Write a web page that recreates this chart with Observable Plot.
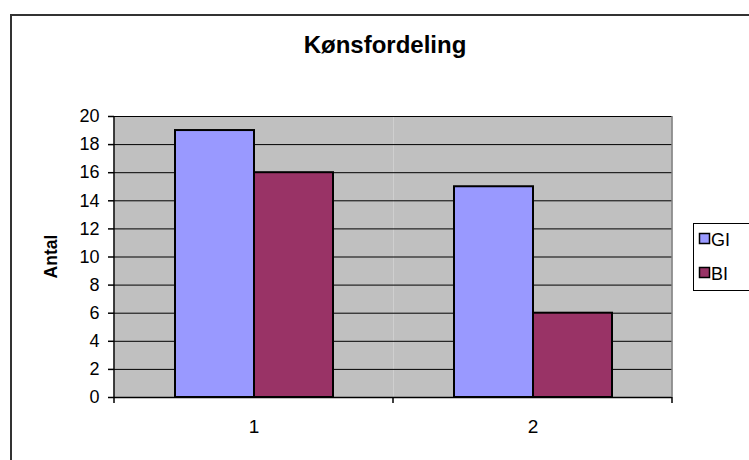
<!DOCTYPE html>
<html>
<head>
<meta charset="utf-8">
<script src="https://cdn.jsdelivr.net/npm/d3@7"></script>
<script src="https://cdn.jsdelivr.net/npm/@observablehq/plot@0.6"></script>
<style>
  html, body { margin: 0; padding: 0; background: #fff; overflow: hidden; }
  #chart svg { display: block; }
</style>
</head>
<body>
<div id="chart"></div>
<script>
const title = "Kønsfordeling";
const yLabel = "Antal";
const categories = ["1", "2"];
const seriesNames = ["GI", "BI"];
const giValues = [19, 15];
const biValues = [16, 6];
const seriesColors = ["#9999FF", "#993366"];
const yTicks = [0, 2, 4, 6, 8, 10, 12, 14, 16, 18, 20];

const data = categories.flatMap((c, i) => [
  {cat: c, series: seriesNames[0], value: giValues[i]},
  {cat: c, series: seriesNames[1], value: biValues[i]}
]);

const font = "'Liberation Sans', Arial, Helvetica, sans-serif";

const chart = Plot.plot({
  width: 749,
  height: 460,
  marginTop: 116,
  marginBottom: 63,
  marginLeft: 113,
  marginRight: 77,
  style: {fontFamily: font, fontSize: "18px", color: "#000", background: "#fff", overflow: "hidden"},
  fx: {domain: categories, padding: 0, label: null},
  x: {domain: seriesNames, paddingInner: 0, paddingOuter: 0.747, axis: null},
  y: {domain: [0, 20], label: null},
  color: {domain: seriesNames, range: seriesColors},
  marks: [
    Plot.frame({fill: "#C0C0C0", stroke: null}),
    Plot.gridY(yTicks, {stroke: "#000", strokeOpacity: 1, strokeWidth: 1}),
    Plot.barY(data, {fx: "cat", x: "series", y: "value", fill: "series", stroke: "#000", strokeWidth: 2}),
    Plot.ruleY([0], {stroke: "#000", strokeWidth: 1.5}),
    Plot.axisY(yTicks, {tickSize: 6, tickPadding: 9, fontSize: 18, label: null, strokeWidth: 1.5}),
    Plot.axisFx({anchor: "bottom", tickSize: 0, tickPadding: 22, fontSize: 19, label: null})
  ]
});

document.getElementById("chart").appendChild(chart);

const svg = d3.select(chart);
svg.selectAll('g[aria-label="y-axis tick label"] text').style("font-size", "18px", "important");
svg.selectAll('g[aria-label="fx-axis tick label"] text').style("font-size", "19px", "important");

const fxS = chart.scale("fx");
const yS = chart.scale("y");
const yTop = yS.apply(20);
const yBot = yS.apply(0);
const leftX = fxS.apply(categories[0]);
const bw = fxS.bandwidth;
const rightX = fxS.apply(categories[categories.length - 1]) + bw;

// plot-area right border
svg.append("line")
  .attr("x1", rightX).attr("x2", rightX).attr("y1", yTop).attr("y2", yBot)
  .attr("stroke", "#808080").attr("stroke-width", 1.5);
// left axis line
svg.append("line")
  .attr("x1", leftX).attr("x2", leftX).attr("y1", yTop).attr("y2", yBot + 0.75)
  .attr("stroke", "#000").attr("stroke-width", 1.5);
// category boundary ticks
const bounds = categories.map(c => fxS.apply(c)).concat([rightX]);
svg.selectAll("line.xtick").data(bounds).join("line")
  .attr("class", "xtick")
  .attr("x1", d => d).attr("x2", d => d)
  .attr("y1", yBot).attr("y2", yBot + 6)
  .attr("stroke", "#000").attr("stroke-width", 1.5);

// outer chart border
svg.append("rect")
  .attr("x", 11).attr("y", 15).attr("width", 800).attr("height", 500)
  .attr("fill", "none").attr("stroke", "#333").attr("stroke-width", 2);

// title
svg.append("text")
  .attr("x", 385).attr("y", 53)
  .attr("text-anchor", "middle")
  .attr("font-family", font).attr("font-size", 24).attr("font-weight", "bold")
  .attr("fill", "#000")
  .text(title);

// y label
svg.append("text")
  .attr("transform", `translate(57,${(yTop + yBot) / 2}) rotate(-90)`)
  .attr("text-anchor", "middle")
  .attr("font-family", font).attr("font-size", 17.5).attr("font-weight", "bold")
  .attr("fill", "#000")
  .text(yLabel);

// legend
const lg = svg.append("g").attr("text-anchor", "start");
lg.append("rect")
  .attr("x", 693.5).attr("y", 223.5).attr("width", 100).attr("height", 67)
  .attr("fill", "#fff").attr("stroke", "#000").attr("stroke-width", 1);
seriesNames.forEach((s, i) => {
  lg.append("rect")
    .attr("x", 699.5).attr("y", 233.5 + i * 34).attr("width", 10).attr("height", 10)
    .attr("fill", seriesColors[i]).attr("stroke", "#000").attr("stroke-width", 1.5);
  lg.append("text")
    .attr("x", 711).attr("y", 246 + i * 34)
    .attr("text-anchor", "start")
    .attr("font-family", font).attr("font-size", 18).attr("fill", "#000")
    .text(s);
});
</script>
</body>
</html>
